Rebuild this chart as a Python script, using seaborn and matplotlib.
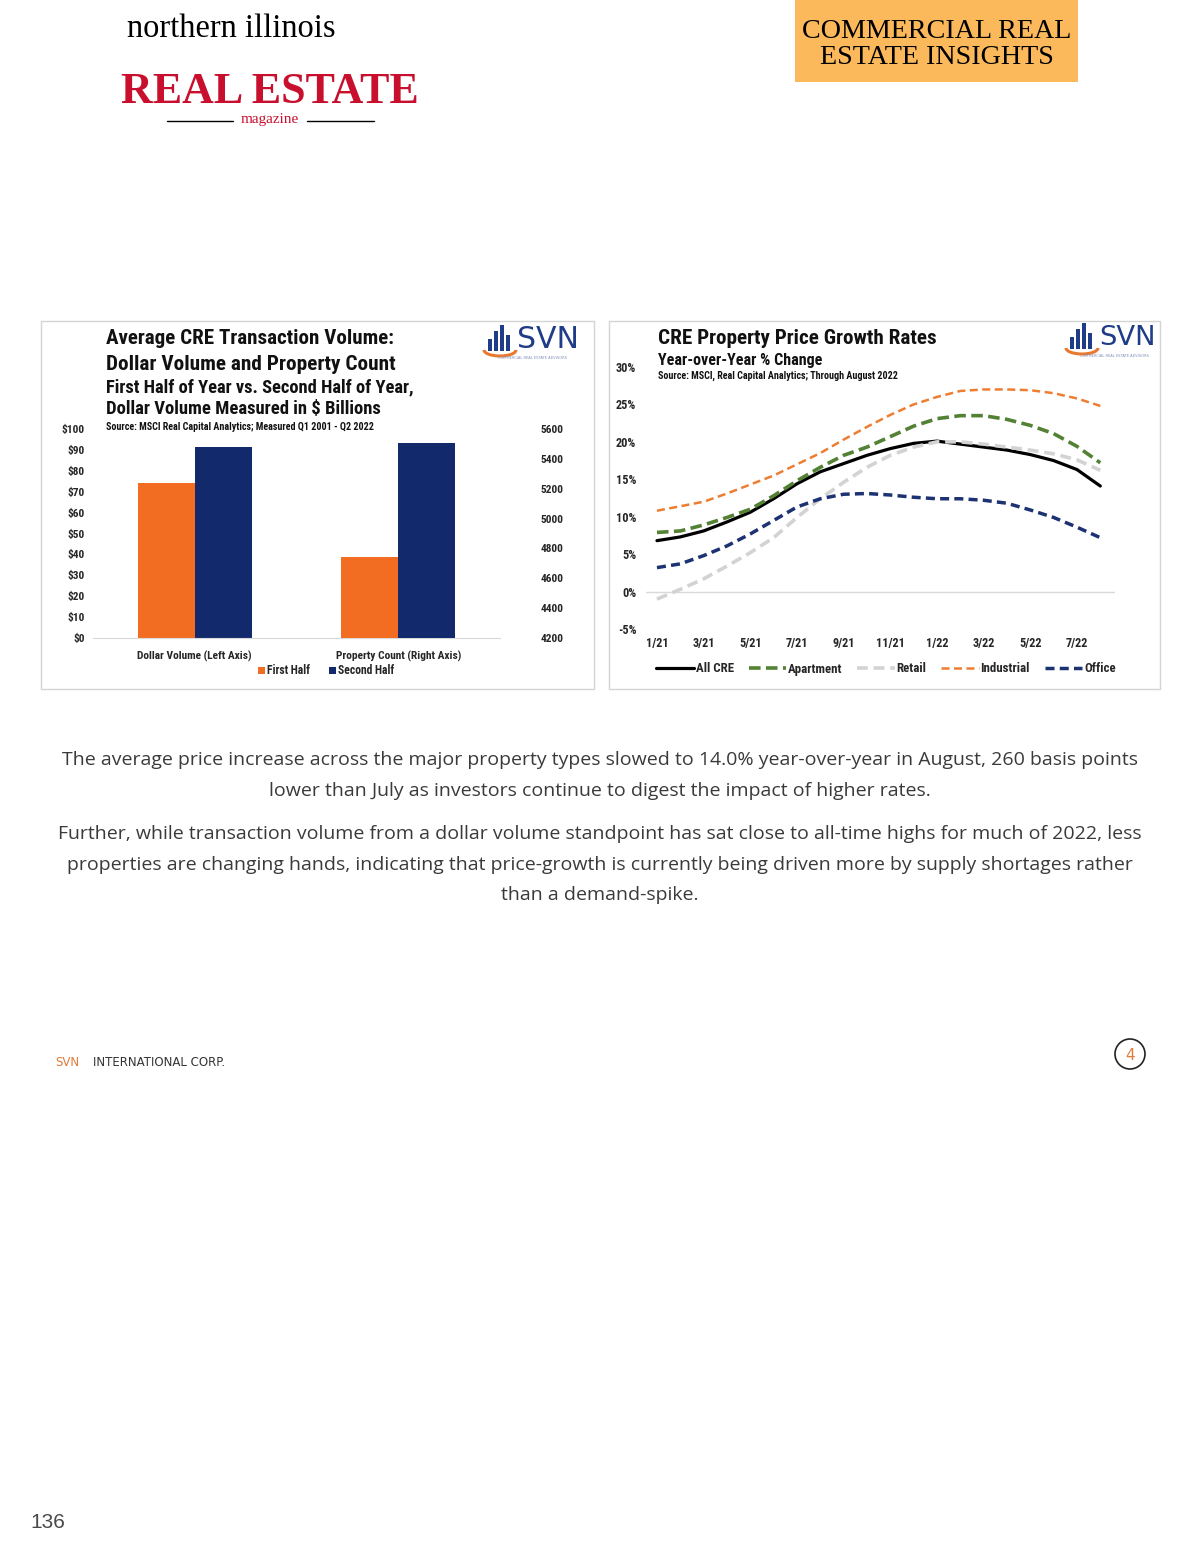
import os
import numpy as np
import pandas as pd
import matplotlib
matplotlib.use("Agg")
import matplotlib.pyplot as plt
import seaborn as sns
from matplotlib import font_manager as fm
from matplotlib.textpath import TextPath
from matplotlib.patches import Rectangle, Patch, Ellipse, Arc
from matplotlib.lines import Line2D

# ---------------- data ----------------
bar_categories = ["Dollar Volume (Left Axis)", "Property Count (Right Axis)"]
halves = ["First Half", "Second Half"]
dollar_volume = [74.0, 91.5]          # $ billions (left axis)
property_count = [4740, 5505]         # properties (right axis)
left_ticks = [0, 10, 20, 30, 40, 50, 60, 70, 80, 90, 100]
right_ticks = [4200, 4400, 4600, 4800, 5000, 5200, 5400, 5600]

months = ["1/21", "2/21", "3/21", "4/21", "5/21", "6/21", "7/21", "8/21", "9/21", "10/21",
          "11/21", "12/21", "1/22", "2/22", "3/22", "4/22", "5/22", "6/22", "7/22", "8/22"]
month_tick_labels = ["1/21", "3/21", "5/21", "7/21", "9/21", "11/21", "1/22", "3/22", "5/22", "7/22"]
all_cre    = [6.8, 7.3, 8.1, 9.3, 10.6, 12.4, 14.4, 16.0, 17.1, 18.2, 19.1, 19.8, 20.1, 19.7, 19.3, 18.9, 18.3, 17.5, 16.3, 14.1]
apartment  = [7.9, 8.1, 8.9, 9.9, 11.0, 12.8, 14.8, 16.6, 18.2, 19.3, 20.7, 22.1, 23.1, 23.5, 23.5, 23.0, 22.2, 21.1, 19.4, 17.2]
retail     = [-1.0, 0.3, 1.7, 3.4, 5.2, 7.2, 9.9, 12.4, 14.6, 16.6, 18.2, 19.3, 20.0, 20.0, 19.7, 19.3, 18.9, 18.4, 17.6, 16.2]
industrial = [10.8, 11.4, 12.0, 13.1, 14.3, 15.5, 17.0, 18.5, 20.3, 22.0, 23.6, 25.0, 26.0, 26.8, 27.0, 27.0, 26.9, 26.5, 25.8, 24.8]
office     = [3.2, 3.7, 4.8, 6.1, 7.7, 9.5, 11.3, 12.4, 13.0, 13.1, 12.9, 12.6, 12.4, 12.4, 12.2, 11.8, 10.9, 9.9, 8.6, 7.2]
series_names = ["All CRE", "Apartment", "Retail", "Industrial", "Office"]
pct_ticks = [-5, 0, 5, 10, 15, 20, 25, 30]

# ---------------- styles ----------------
ORANGE_BAR = "#F26D21"
NAVY_BAR = "#12296B"
bar_pal = {"First Half": ORANGE_BAR, "Second Half": NAVY_BAR}
line_pal = {"All CRE": "#000000", "Apartment": "#548235", "Retail": "#D3D3D3",
            "Industrial": "#ED7D31", "Office": "#1C3272"}
line_dashes = {"All CRE": "", "Apartment": (3.2, 1.5), "Retail": (3.0, 1.6),
               "Industrial": (3.2, 1.8), "Office": (2.6, 1.5)}
line_sizes = {"All CRE": 2.3, "Apartment": 2.6, "Retail": 2.6, "Industrial": 1.8, "Office": 2.5}

sns.set_style("white")
plt.rcParams["font.family"] = ["DejaVu Sans"]

# ---------------- fonts ----------------
_OK_FAMS = ("Noto Sans", "DejaVu Sans", "Liberation Sans", "Roboto", "Open Sans", "Lato", "Inter")


def _wnum(w):
    if isinstance(w, (int, float)):
        return w
    return {"bold": 700, "normal": 400, "regular": 400, "light": 300, "semibold": 600,
            "demibold": 600, "heavy": 800, "extra bold": 800, "black": 900}.get(str(w).lower(), 400)


def _measure(prop, s):
    ext = TextPath((0, 0), s, prop=prop).get_extents()
    return ext.width, ext.height


def _pick_condensed(target_ratio=19.0):
    best = None
    seen = set()
    for f in fm.fontManager.ttflist:
        if f.fname in seen:
            continue
        seen.add(f.fname)
        if not f.name.startswith(_OK_FAMS):
            continue
        low = (f.name + os.path.basename(f.fname)).lower()
        if any(k in low for k in ("mono", "cjk", "symbol", "math", "display", "italic", "oblique")):
            continue
        if f.style != "normal":
            continue
        w = _wnum(f.weight)
        if w < 600 or w > 900:
            continue
        try:
            prop = fm.FontProperties(fname=f.fname, size=100)
            tw, _ = _measure(prop, "Average CRE Transaction Volume:")
            _, ch = _measure(prop, "H")
        except Exception:
            continue
        if ch <= 0:
            continue
        score = abs(tw / ch - target_ratio) + abs(w - 750) / 400.0
        if best is None or score < best[0]:
            best = (score, f.fname)
    return best[1] if best else None


_COND = _pick_condensed()


def cprop(size=10):
    if _COND:
        return fm.FontProperties(fname=_COND, size=size)
    return fm.FontProperties(family="DejaVu Sans", weight="bold", size=size)


def fit_size(prop_fn, s, width_px):
    w, _ = _measure(prop_fn(100), s)
    return width_px * 72.0 / w


W, H = 1200, 1553
fig = plt.figure(figsize=(W / 100, H / 100), dpi=100)
fig.patch.set_facecolor("white")


def fx(x):
    return x / W


def fy(y):
    return 1 - y / H


def rect(x0, y0, x1, y1):
    return [fx(x0), fy(y1), (x1 - x0) / W, (y1 - y0) / H]


def serif(size=10, bold=False):
    return fm.FontProperties(family=["Liberation Serif", "DejaVu Serif"],
                             weight="bold" if bold else "normal", size=size)


def ctext(x, y, s, width_px, ha="left", color="#111111"):
    size = fit_size(cprop, s, width_px)
    fig.text(fx(x), fy(y), s, fontproperties=cprop(size), ha=ha, va="center", color=color)


# ---------------- header ----------------
s = "northern illinois"
fig.text(fx(231), fy(29), s, fontproperties=serif(fit_size(serif, s, 207)),
         ha="center", va="center", color="black")
s = "REAL ESTATE"
fig.text(fx(270), fy(92), s,
         fontproperties=serif(fit_size(lambda z: serif(z, True), s, 295), True),
         ha="center", va="center", color="#C8102E")
fig.text(fx(270), fy(120), "magazine", fontproperties=serif(11),
         ha="center", va="center", color="#C8102E")
fig.add_artist(Line2D([fx(167), fx(233)], [fy(121), fy(121)], color="black", lw=1))
fig.add_artist(Line2D([fx(307), fx(374)], [fy(121), fy(121)], color="black", lw=1))

fig.add_artist(Rectangle((fx(795), fy(82)), 283 / W, 82 / H, facecolor="#FBB95B",
                         edgecolor="none", transform=fig.transFigure))
hsize = fit_size(serif, "COMMERCIAL REAL", 267)
fig.text(fx(937), fy(31), "COMMERCIAL REAL", fontproperties=serif(hsize),
         ha="center", va="center", color="black")
fig.text(fx(937), fy(57), "ESTATE INSIGHTS", fontproperties=serif(hsize),
         ha="center", va="center", color="black")

# ---------------- panels ----------------
for (x0, y0, x1, y1) in [(41, 321, 594, 689), (609, 321, 1160, 689)]:
    fig.add_artist(Rectangle((fx(x0), fy(y1)), (x1 - x0) / W, (y1 - y0) / H, facecolor="none",
                             edgecolor="#D4D4D4", lw=1, transform=fig.transFigure))


def svn_logo(x0, y0, text_w):
    heights = [12, 20, 26, 16]
    for i, h in enumerate(heights):
        fig.add_artist(Rectangle((fx(x0 + 5 + i * 6), fy(y0 + 27)), 3.5 / W, h / H,
                                 facecolor="#1F3C88", edgecolor="none", transform=fig.transFigure))
    fig.add_artist(Arc((fx(x0 + 17), fy(y0 + 26)), 32 / W, 12 / H, theta1=180, theta2=360,
                       color="#E8792F", lw=2.2, transform=fig.transFigure))
    svn_prop = lambda z: fm.FontProperties(family="DejaVu Sans", size=z)
    fig.text(fx(x0 + 34), fy(y0 + 16), "SVN", fontproperties=svn_prop(fit_size(svn_prop, "SVN", text_w)),
             color="#1F3C88", ha="left", va="center")
    fig.text(fx(x0 + 50), fy(y0 + 34), "COMMERCIAL REAL ESTATE ADVISORS", fontsize=2.6,
             color="#7F8FB8", ha="center", va="center")


svn_logo(483, 324, 57)
svn_logo(1065, 322, 52)

# ---------------- left chart ----------------
ctext(106, 339, "Average CRE Transaction Volume:", 286)
ctext(106, 364, "Dollar Volume and Property Count", 287)
ctext(106, 387, "First Half of Year vs. Second Half of Year,", 306)
ctext(106, 409, "Dollar Volume Measured in $ Billions", 274)
ctext(106, 427, "Source: MSCI Real Capital Analytics; Measured Q1 2001 - Q2 2022", 266)

df_bar = pd.DataFrame({
    "metric": [bar_categories[0]] * 2 + [bar_categories[1]] * 2,
    "half": halves * 2,
    "value": dollar_volume + property_count,
})

axL = fig.add_axes(rect(93, 429, 500, 638))
axL2 = axL.twinx()
sns.barplot(data=df_bar[df_bar["metric"] == bar_categories[0]], x="metric", y="value", hue="half",
            order=bar_categories, hue_order=halves, palette=bar_pal, saturation=1, width=0.56,
            errorbar=None, legend=False, ax=axL)
sns.barplot(data=df_bar[df_bar["metric"] == bar_categories[1]], x="metric", y="value", hue="half",
            order=bar_categories, hue_order=halves, palette=bar_pal, saturation=1, width=0.56,
            errorbar=None, legend=False, ax=axL2)
for p in axL.patches + axL2.patches:
    p.set_edgecolor("none")
axL.set_xlim(-0.5, 1.5)
axL.set_ylim(0, 100)
axL2.set_ylim(4200, 5600)
axL.set_yticks(left_ticks)
axL.set_yticklabels([f"${v}" for v in left_ticks])
axL2.set_yticks(right_ticks)
axL2.set_yticklabels([str(v) for v in right_ticks])
axL.set_xticks([0, 1])
axL.set_xticklabels(bar_categories)
for a in (axL, axL2):
    a.set_xlabel("")
    a.set_ylabel("")
    for sp in a.spines.values():
        sp.set_visible(False)
    a.set_facecolor("none")
axL.spines["bottom"].set_visible(True)
axL.spines["bottom"].set_color("#D9D9D9")
axL.tick_params(axis="y", length=0, pad=6)
axL.tick_params(axis="x", length=0, pad=9)
axL2.tick_params(axis="y", length=0, pad=29)
ytick_size = fit_size(cprop, "5600", 22)
for t in axL.get_yticklabels() + axL2.get_yticklabels():
    t.set_fontproperties(cprop(ytick_size))
xcat_size = fit_size(cprop, "Dollar Volume (Left Axis)", 114)
for t in axL.get_xticklabels():
    t.set_fontproperties(cprop(xcat_size))

leg_handles = [Patch(facecolor=bar_pal[h], edgecolor="none") for h in halves]
fig.legend(leg_handles, halves, loc="center", bbox_to_anchor=(fx(326), fy(671)), ncol=2,
           frameon=False, prop=cprop(fit_size(cprop, "Second Half", 56)),
           handlelength=0.6, handleheight=0.6, handletextpad=0.2,
           columnspacing=1.6, borderaxespad=0, borderpad=0)

# ---------------- right chart ----------------
ctext(658, 339, "CRE Property Price Growth Rates", 278)
ctext(658, 361, "Year-over-Year % Change", 163)
ctext(658, 376, "Source: MSCI, Real Capital Analytics; Through August 2022", 239)

rows = []
for name, vals in zip(series_names, [all_cre, apartment, retail, industrial, office]):
    for i, (m, v) in enumerate(zip(months, vals)):
        rows.append({"idx": i, "month": m, "series": name, "value": v})
df_line = pd.DataFrame(rows)

axR = fig.add_axes(rect(646, 367, 1115, 629))
axR.axhline(0, color="#D9D9D9", lw=1, zorder=0)
sns.lineplot(data=df_line, x="idx", y="value", hue="series", style="series", size="series",
             hue_order=series_names, style_order=series_names, size_order=series_names,
             palette=line_pal, dashes=line_dashes, sizes=line_sizes, legend=False,
             sort=False, ax=axR)
axR.set_xlim(-0.47, 19.63)
axR.set_ylim(-5, 30)
axR.set_yticks(pct_ticks)
axR.set_yticklabels([f"{v}%" for v in pct_ticks])
axR.set_xticks([months.index(m) for m in month_tick_labels])
axR.set_xticklabels(month_tick_labels)
axR.set_xlabel("")
axR.set_ylabel("")
for sp in axR.spines.values():
    sp.set_visible(False)
axR.set_facecolor("none")
axR.tick_params(axis="y", length=0, pad=7)
axR.tick_params(axis="x", length=0, pad=6)
rtick_size = fit_size(cprop, "11/21", 26)
for t in axR.get_yticklabels() + axR.get_xticklabels():
    t.set_fontproperties(cprop(rtick_size))

line_handles = [Line2D([], [], color=line_pal[n], lw=line_sizes[n],
                       linestyle="-" if line_dashes[n] == "" else (0, line_dashes[n]))
                for n in series_names]
fig.legend(line_handles, series_names, loc="center", bbox_to_anchor=(fx(886), fy(669)), ncol=5,
           frameon=False, prop=cprop(fit_size(cprop, "Apartment", 54)),
           handlelength=2.9, handletextpad=0.15,
           columnspacing=1.15, borderaxespad=0, borderpad=0)

# ---------------- body text ----------------
body_lines = [
    (760, "The average price increase across the major property types slowed to 14.0% year-over-year in August, 260 basis points"),
    (791, "lower than July as investors continue to digest the impact of higher rates."),
    (834, "Further, while transaction volume from a dollar volume standpoint has sat close to all-time highs for much of 2022, less"),
    (865, "properties are changing hands, indicating that price-growth is currently being driven more by supply shortages rather"),
    (895, "than a demand-spike."),
]


def body_prop(size=10):
    return fm.FontProperties(family=["Open Sans", "DejaVu Sans"], size=size)


body_size = fit_size(body_prop, body_lines[0][1], 1071)
for y, s in body_lines:
    fig.text(fx(600), fy(y), s, fontproperties=body_prop(body_size),
             color="#3A3A3A", ha="center", va="center")

# ---------------- footer ----------------
fig.text(fx(55), fy(1063), "SVN", family="DejaVu Sans", fontsize=8.5, color="#E07B39",
         ha="left", va="center")
fig.text(fx(93), fy(1063), "INTERNATIONAL CORP.", family="DejaVu Sans", fontsize=8.5,
         color="#333333", ha="left", va="center")
fig.add_artist(Ellipse((fx(1130), fy(1054)), 30 / W, 30 / H, facecolor="none",
                       edgecolor="#222222", lw=1.2, transform=fig.transFigure))
fig.text(fx(1130), fy(1055), "4", family="DejaVu Sans", fontsize=11, color="#E07B39",
         ha="center", va="center")
fig.text(fx(30), fy(1522), "136", family=["Liberation Sans", "DejaVu Sans"], fontsize=15,
         color="#4A4A4A", ha="left", va="center")

fig.savefig("out.png", dpi=100, facecolor="white")
